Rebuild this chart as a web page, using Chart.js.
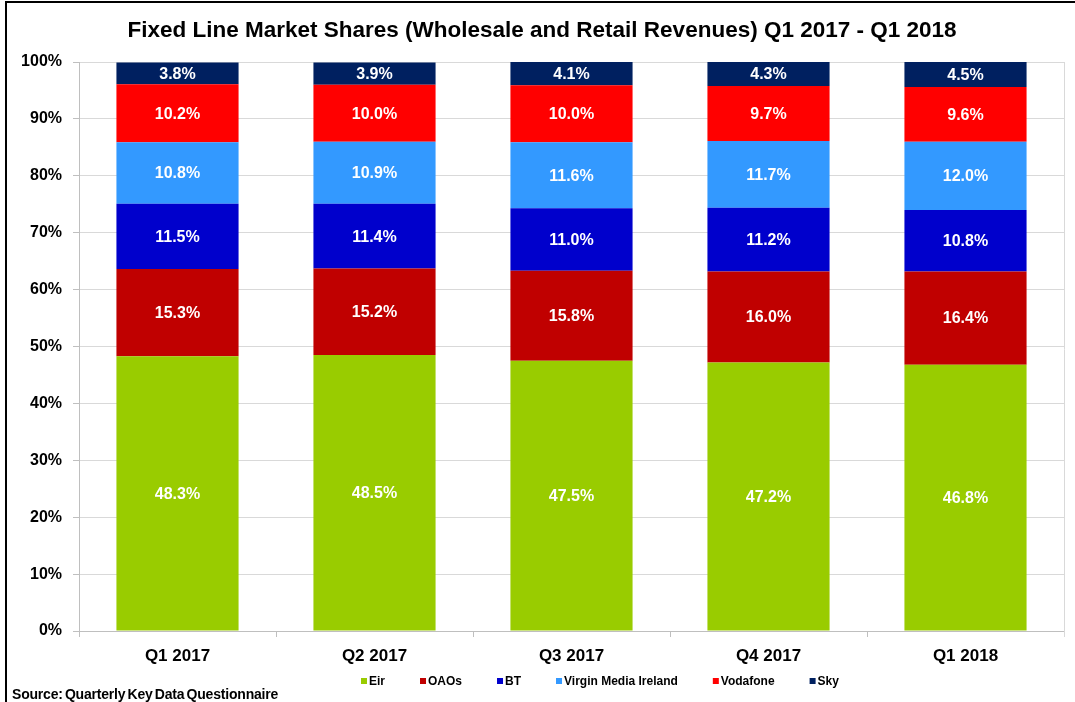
<!DOCTYPE html>
<html>
<head>
<meta charset="utf-8">
<script src="https://cdn.jsdelivr.net/npm/chart.js@4.4.1/dist/chart.umd.min.js"></script>
<style>
    body { margin: 0; background: #fff; }
    #wrap { position: relative; width: 1075px; height: 702px; overflow: hidden; }
    #frame { position: absolute; left: 5px; top: 1px; right: -10px; bottom: -10px; border-left: 2px solid #000; border-top: 2px solid #000; pointer-events: none; }
    #source { position: absolute; left: 12px; top: 686px; font: bold 14px "Liberation Sans", Arial, sans-serif; color: #000; word-spacing: -1.5px; letter-spacing: -0.2px; }
</style>
</head>
<body>
<div id="wrap">
    <canvas id="shareChart" width="1075" height="702"></canvas>
    <div id="frame"></div>
    <div id="source">Source: Quarterly Key Data Questionnaire</div>
</div>
<script>
// Quarters on the x axis
const quarters = ['Q1 2017', 'Q2 2017', 'Q3 2017', 'Q4 2017', 'Q1 2018'];

// Market share per operator (%)
const eir = [48.3, 48.5, 47.5, 47.2, 46.8];
const oaos = [15.3, 15.2, 15.8, 16.0, 16.4];
const bt = [11.5, 11.4, 11.0, 11.2, 10.8];
const virginMedia = [10.8, 10.9, 11.6, 11.7, 12.0];
const vodafone = [10.2, 10.0, 10.0, 9.7, 9.6];
const sky = [3.8, 3.9, 4.1, 4.3, 4.5];

// y axis ticks
const yTicks = [0, 10, 20, 30, 40, 50, 60, 70, 80, 90, 100];

const FONT = '"Liberation Sans", Arial, sans-serif';

// Write the value in the middle of each segment
const segmentLabels = {
    id: 'segmentLabels',
    afterDatasetsDraw(chart) {
        const ctx = chart.ctx;
        ctx.save();
        ctx.font = 'bold 16px ' + FONT;
        ctx.fillStyle = '#fff';
        ctx.textAlign = 'center';
        ctx.textBaseline = 'middle';
        chart.data.datasets.forEach((ds, i) => {
            chart.getDatasetMeta(i).data.forEach((bar, j) => {
                const mid = (bar.y + bar.base) / 2;
                ctx.fillText(ds.data[j].toFixed(1) + '%', bar.x, mid + 1);
            });
        });
        ctx.restore();
    }
};

// Right edge of the plot area
const plotEdge = {
    id: 'plotEdge',
    beforeDatasetsDraw(chart) {
        const a = chart.chartArea;
        const ctx = chart.ctx;
        ctx.save();
        ctx.strokeStyle = '#d9d9d9';
        ctx.lineWidth = 1;
        ctx.beginPath();
        ctx.moveTo(a.right + 0.5, a.top);
        ctx.lineTo(a.right + 0.5, a.bottom + 6);
        ctx.stroke();
        ctx.restore();
    }
};

// Legend row under the axis, built from the datasets (Excel puts it a bit right of centre)
const bottomLegend = {
    id: 'bottomLegend',
    afterDraw(chart) {
        const ctx = chart.ctx;
        let x = 361;
        const y = 681;
        ctx.save();
        ctx.font = 'bold 12px ' + FONT;
        ctx.textBaseline = 'middle';
        ctx.textAlign = 'left';
        chart.data.datasets.forEach(ds => {
            ctx.fillStyle = ds.backgroundColor;
            ctx.fillRect(x, y - 3, 6, 6);
            ctx.fillStyle = '#000';
            ctx.fillText(ds.label, x + 8, y + 1);
            x += 8 + ctx.measureText(ds.label).width + 35;
        });
        ctx.restore();
    }
};

function makeSet(label, data, color) {
    return { label: label, data: data, backgroundColor: color, borderWidth: 0 };
}

const ctx = document.getElementById('shareChart').getContext('2d');
new Chart(ctx, {
    type: 'bar',
    data: {
        labels: quarters,
        datasets: [
            makeSet('Eir', eir, '#99cc00'),
            makeSet('OAOs', oaos, '#c00000'),
            makeSet('BT', bt, '#0000cc'),
            makeSet('Virgin Media Ireland', virginMedia, '#3399ff'),
            makeSet('Vodafone', vodafone, '#ff0000'),
            makeSet('Sky', sky, '#002060')
        ]
    },
    options: {
        responsive: false,
        animation: false,
        layout: { padding: { left: 20, right: 11, top: 8, bottom: 31 } },
        datasets: { bar: { categoryPercentage: 1, barPercentage: 0.62 } },
        plugins: {
            title: {
                display: true,
                text: 'Fixed Line Market Shares (Wholesale and Retail Revenues) Q1 2017 - Q1 2018',
                color: '#000',
                font: { family: FONT, size: 22.5, weight: 'bold' },
                padding: { top: 9, bottom: 18 }
            },
            legend: { display: false },
            tooltip: { enabled: false }
        },
        scales: {
            x: {
                stacked: true,
                afterFit: scale => { scale.height = 40; },
                grid: { drawOnChartArea: false, drawTicks: true, tickLength: 6, color: '#bfbfbf' },
                border: { color: '#bfbfbf' },
                ticks: { color: '#000', padding: 9, font: { family: FONT, size: 17, weight: 'bold' } }
            },
            y: {
                stacked: true,
                min: 0,
                max: 100,
                afterBuildTicks: scale => { scale.ticks = yTicks.map(v => ({ value: v })); },
                afterFit: scale => { scale.width = 59; },
                grid: { color: '#d9d9d9', tickLength: 6, tickColor: '#bfbfbf' },
                border: { color: '#bfbfbf' },
                ticks: {
                    color: '#000',
                    padding: 11,
                    font: { family: FONT, size: 16, weight: 'bold' },
                    callback: v => v + '%'
                }
            }
        }
    },
    plugins: [segmentLabels, plotEdge, bottomLegend]
});
</script>
</body>
</html>
